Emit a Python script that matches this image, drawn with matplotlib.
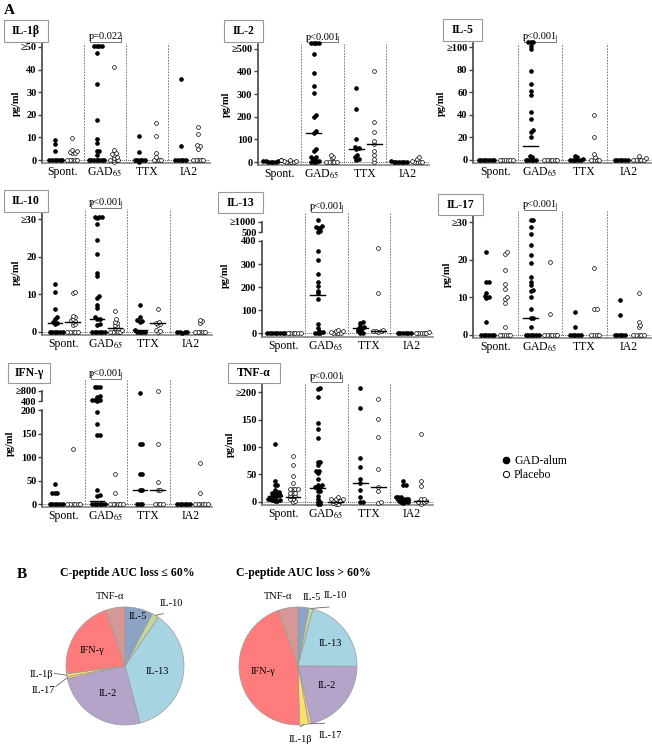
import numpy as np
import matplotlib
matplotlib.use('Agg')
import matplotlib.pyplot as plt
from matplotlib.lines import Line2D
from matplotlib.patches import Rectangle

plt.rcParams['font.family'] = ['Liberation Serif', 'DejaVu Serif']
plt.rcParams['mathtext.fontset'] = 'stix'

W, H = 652, 748
groups = ['Spont.', 'GAD$_{65}$', 'TTX', 'IA2']

# ---------------- data (pg/ml), per group: Spont., GAD65, TTX, IA2 ----------------
il1b_alum = [[0, 0, 0, 0, 0, 0, 4.0, 7.3, 8.7],
             [0, 0, 0, 0, 0, 0, 0, 2.4, 3.9, 4.0, 7.6, 9.1, 17.8, 33.5, 47.3, 50.5, 50.5, 50.5, 50.5],
             [-1.0, 0, 0, 0, 0, 0, 3.6, 10.4],
             [0, 0, 0, 0, 0, 6.1, 35.7]]
il1b_plac = [[0, 0, 0, 0, 0, 3.0, 3.3, 3.5, 4.0, 4.4, 9.8],
             [-1.0, 0, 0, 0, 0, 1.0, 1.5, 2.2, 2.6, 2.9, 4.3, 41.3],
             [0, 0, 0, 0, 1.3, 3.0, 10.4, 16.3],
             [0, 0, 0, 0, 0, 5.0, 6.0, 6.5, 11.5, 14.7]]
il1b_med = [None] * 8

il2_alum = [[0, 0, 0, 0, 3, 5, 6, 8],
            [0, 0, 0, 5, 10, 15, 20, 24, 50, 56, 130, 135, 200, 207, 306, 337, 391, 476, 523, 523, 523, 523],
            [10, 15, 20, 29, 57, 62, 66, 101, 232, 325],
            [0, 0, 0, 0, 0, 2, 4]]
il2_plac = [[0, 0, 0, 0, 4, 5, 8, 10],
            [0, 0, 0, 0, 0, 16, 24, 31],
            [0, 12, 31, 50, 79, 94, 134, 178, 403],
            [0, 0, 0, 0, 5, 15, 20]]
il2_med = [None, None, 128, None, 57, 78, None, None]

il5_alum = [[0, 0, 0, 0, 0, 0, 0],
            [0, 0, 0, 0, 0, 2, 3.5, 20, 25, 26, 36, 42, 57, 61, 67, 79, 98, 101, 104, 104, 104],
            [0, 0, 0, 0, 0, 1, 2, 3.5],
            [0, 0, 0, 0, 0, 0]]
il5_plac = [[0, 0, 0, 0, 0, 0],
            [0, 0, 0, 0, 0, 0],
            [0, 0, 0, 0, 2, 5, 20, 40],
            [0, 0, 0, 0, 0, 1.5, 3]]
il5_med = [None, None, 12, None, None, None, None, None]

il10_alum = [[0, 0, 0, 0, 0, 0, 2.0, 2.3, 2.5, 3.5, 4.0, 6.0, 10.6, 12.7],
             [0, 0, 0, 0, 0, 0, 1.8, 2.0, 3.3, 3.5, 3.8, 6.3, 7.2, 9.0, 9.6, 14.9, 15.8, 20.7, 24.5,
              28.7, 30.3, 30.7, 30.7, 30.7],
             [0, 0, 0, 0, 0.5, 2.7, 2.9, 3.0, 4.0, 7.1],
             [-0.3, 0, 0, 0, 0]]
il10_plac = [[0, 0, 0, 0, 0, 1.8, 2.0, 2.5, 2.8, 3.0, 3.5, 3.8, 4.3, 10.3, 10.7],
             [0, 0, 0, 0, 0, 0.5, 1.0, 1.5, 1.8, 2.2, 2.7, 3.3, 5.4],
             [0, 0.3, 0.5, 1.8, 2.0, 2.4, 2.6, 6.1],
             [0, 0, 0, 0, 0, 2.4, 2.8, 3.2]]
il10_med = [2.3, 2.5, 3.5, 1.0, 0.5, 2.2, None, None]

il13_alum = [[0, 0, 0, 0, 0, 0, 2, 3],
             [0, 0, 0, 5, 10, 25, 39, 149, 173, 185, 205, 221, 256, 318, 358, 530, 560, 690, 700, 765, 780, 1100],
             [0, 0, 8, 15, 20, 25, 28, 32, 45, 50],
             [0, 0, 0, 0, 0, 0]]
il13_plac = [[0, 0, 0, 0, 0, 2],
             [0, 0, 0, 0, 5, 8, 12, 15],
             [5, 8, 10, 12, 15, 173, 370],
             [0, 0, 0, 0, 3, 5]]
il13_med = [None, None, 165, None, 25, 12, None, None]

il17_alum = [[0, 0, 0, 0, 0, 0, 3.5, 9.9, 10.0, 10.5, 11.1, 14.0, 14.0, 22.0],
             [0, 0, 0, 0, 0, 0, 2.0, 4.4, 4.6, 7.0, 10.1, 11.8, 12.1, 13.3, 14.2, 15.5, 19.1, 21.3, 24.0,
              26.8, 28.7, 30.7, 30.7],
             [0, 0, 0, 0, 0, 2.0, 6.0],
             [0, 0, 0, 0, 0, 5.2, 9.3]]
il17_plac = [[0, 0, 0, 0, 0, 2.2, 8.5, 9.5, 10.0, 12.2, 13.5, 17.3, 21.6, 22.0],
             [0, 0, 0, 0, 0, 0, 5.5, 19.5],
             [0, 0, 0, 0, 6.9, 6.9, 17.8],
             [0, 0, 0, 0, 0, 2.0, 2.6, 3.4, 11.2]]
il17_med = [None, None, 4.4, None, None, None, None, None]

ifng_alum = [[0, 0, 0, 0, 0, 0, 25, 25, 25, 43],
             [0, 0, 0, 0, 0, 0, 18, 20, 30, 148, 148, 170, 196, 420, 440, 450, 460, 575, 610, 970, 970, 970],
             [0, 0, 0, 30, 30, 65, 65, 127, 127, 740],
             [0, 0, 0, 0, 0, 0]]
ifng_plac = [[0, 0, 0, 0, 0, 0, 118],
             [0, 0, 0, 0, 0, 0, 25, 65],
             [0, 0, 0, 0, 30, 30, 48, 127, 800],
             [0, 0, 0, 0, 0, 0, 25, 87]]
ifng_med = [None, None, 8, None, 30, 30, None, None]

tnfa_alum = [[1, 2, 3, 4, 5, 5, 8, 10, 10, 12, 15, 15, 15, 18, 22, 30, 31, 38, 105],
             [-5, -5, 0, 0, 5, 10, 20, 20, 25, 27, 27, 30, 30, 41, 52, 56, 56, 67, 72, 72, 116, 132, 143, 191, 206, 208],
             [0, 0, 8, 21, 35, 41, 64, 80, 171, 208],
             [-3, 0, 0, 0, 2, 5, 5, 5, 8, 8, 8, 31, 31, 37]]
tnfa_plac = [[0, 2, 5, 5, 10, 10, 10, 15, 15, 15, 24, 24, 24, 24, 35, 47, 67, 83],
             [-5, -5, -3, 0, 2, 2, 2, 5, 5, 5, 8],
             [-2, 0, 20, 27, 60, 119, 152, 188],
             [-5, 0, 0, 0, 2, 5, 5, 29, 38, 124]]
tnfa_med = [11, 9, 25, 0, 35, 27, 3, 1]

# pie charts (B): share of cytokine response, clockwise from top
pie_names = ['IL-5', 'IL-10', 'IL-13', 'IL-2', 'IL-17', 'IL-1β', 'IFN-γ', 'TNF-α']
pie_low = [7.7, 1.9, 36.3, 25.6, 0.6, 0.8, 21.8, 5.3]
pie_high = [3.0, 1.1, 21.0, 21.2, 0.8, 2.5, 45.0, 5.4]
pie_colors = ['#8DA3C6', '#C4D79B', '#A6D4E2', '#B4A4CA', '#F9C290', '#FCE06C', '#FF7C7C', '#D69896']


# broken y axes (IL-13, IFN-γ)
def f_il13(v):
    v = np.asarray(v, float)
    return np.where(v <= 400, v, 437.5 + (v - 500) * 0.0926)


def f_ifng(v):
    v = np.asarray(v, float)
    return np.where(v <= 200, v, 219 + (v - 400) * 0.05325)


def swarm(y, d):
    # simple beeswarm: x offsets (pixels) so that markers do not overlap
    placed = []
    offs = np.zeros(len(y))
    for i in np.argsort(y, kind='stable'):
        near = [(px, py) for px, py in placed if abs(py - y[i]) < d]
        cands = [0.0]
        for px, py in near:
            dx = np.sqrt(d * d - (py - y[i]) ** 2)
            cands += [px + dx, px - dx]
        for c in sorted(cands, key=abs):
            if all((c - px) ** 2 + (y[i] - py) ** 2 >= d * d - 1e-6 for px, py in near):
                offs[i] = c
                break
        placed.append((offs[i], y[i]))
    return offs


fig = plt.figure(figsize=(W / 100, H / 100), dpi=100)


def panel(name, alum, plac, med, pval, lay, box, ticks, ticklabels, f=None, brk=None):
    left, right, top, zero, tpx, tval, bottom = lay
    s = (zero - tpx) / tval
    ax = fig.add_axes([left / W, 1 - bottom / H, (right - left) / W, (bottom - top) / H])
    ax.set_xlim(0, 4)
    ax.set_ylim(-(bottom - zero) / s, (zero - top) / s)
    gpx = (right - left) / 4
    for i in range(4):
        for vals, xo, fc in [(alum[i], 0.3, 'k'), (plac[i], 0.72, 'white')]:
            v = np.array(vals, float)
            if f is not None:
                v = f(v)
            off = swarm(v * s, 2.6) / gpx
            ax.scatter(i + xo + off, v, s=7.5, c=fc, edgecolors='k', linewidths=0.5,
                       zorder=3, clip_on=False)
        for m, xo in [(med[2 * i], 0.3), (med[2 * i + 1], 0.72)]:
            if m is not None:
                mv = f(m) if f is not None else m
                ax.plot([i + xo - 0.17, i + xo + 0.17], [mv, mv], color='k', lw=1.0, zorder=4)
    ax.axhline(0, color='#666666', lw=0.7, ls=(0, (1, 1)), zorder=1)
    for x in [1, 2, 3, 4]:
        ax.axvline(x, color='#666666', lw=0.6, ls=(0, (2, 1.5)), zorder=1)
    for sp in ['top', 'right']:
        ax.spines[sp].set_visible(False)
    ax.spines['left'].set_color('#444444')
    ax.spines['left'].set_linewidth(1.2)
    ax.spines['bottom'].set_color('#888888')
    ax.spines['bottom'].set_linewidth(1.2)
    if brk is not None:
        ax.spines['left'].set_bounds(ax.get_ylim()[0], brk[0])
        ax.plot([0, 0], [brk[1], brk[2]], color='#444444', lw=1.2,
                transform=ax.get_yaxis_transform(), clip_on=False)
    ax.set_yticks(ticks)
    ax.set_yticklabels(ticklabels, fontsize=7.5, fontweight='bold')
    ax.tick_params(axis='y', length=3, width=1, pad=1, color='#444444')
    ax.set_xticks([0.5, 1.5, 2.5, 3.5])
    ax.set_xticklabels(groups, fontsize=8.5)
    ax.tick_params(axis='x', length=0, pad=2)
    ax.set_ylabel('pg/ml', fontsize=7.5, fontweight='bold', labelpad=0)

    # p value bracket over GAD65
    hpx = bottom - top
    tr = ax.get_xaxis_transform()
    y0 = 1 + 1.5 / hpx
    y1 = 1 + 8 / hpx
    ax.plot([1.15, 1.15, 1.87, 1.87], [y1, y0, y0, y1], color='#777777', lw=0.7,
            transform=tr, clip_on=False)
    ax.text(1.51, y0 + 0.5 / hpx, pval, fontsize=7.5, ha='center', va='bottom', transform=tr)

    # name box
    x0, y0b, x1, y1b = box
    fig.add_artist(Rectangle((x0 / W, 1 - y1b / H), (x1 - x0) / W, (y1b - y0b) / H,
                             transform=fig.transFigure, fc='white', ec='#999999', lw=0.8))
    fig.text((x0 + x1) / 2 / W, 1 - (y0b + y1b) / 2 / H, name, fontsize=8.5, fontweight='bold',
             ha='center', va='center')
    return ax


panel('IL-1β', il1b_alum, il1b_plac, il1b_med, 'p=0.022',
      (42, 210, 43, 160, 47, 50, 163), (4, 20, 48, 42),
      [0, 10, 20, 30, 40, 50], ['0', '10', '20', '30', '40', '≥50'])
panel('IL-2', il2_alum, il2_plac, il2_med, 'p<0.001',
      (258, 429, 44, 162, 48.7, 500, 165), (224, 20, 263, 42),
      [0, 100, 200, 300, 400, 500], ['0', '100', '200', '300', '400', '≥500'])
panel('IL-5', il5_alum, il5_plac, il5_med, 'p<0.001',
      (473, 651, 43, 159.7, 47, 100, 163), (443, 19, 482, 41),
      [0, 20, 40, 60, 80, 100], ['0', '20', '40', '60', '80', '≥100'])
panel('IL-10', il10_alum, il10_plac, il10_med, 'p<0.001',
      (42, 212, 209, 331.7, 219.3, 30, 335), (4, 190, 48, 212),
      [0, 10, 20, 30], ['0', '10', '20', '≥30'])
panel('IL-13', il13_alum, il13_plac, il13_med, 'p<0.001',
      (262, 433, 213, 333.3, 241, 400, 337), (218, 192, 263, 213),
      [0, 100, 200, 300, 400, float(f_il13(500)), float(f_il13(1000))],
      ['0', '100', '200', '300', '400', '500', '≥1000'],
      f=f_il13, brk=(400, float(f_il13(500)), float(f_il13(1000))))
panel('IL-17', il17_alum, il17_plac, il17_med, 'p<0.001',
      (473, 651, 211, 335, 222.3, 30, 338), (438, 194, 483, 215),
      [0, 10, 20, 30], ['0', '10', '20', '≥30'])
panel('IFN-γ', ifng_alum, ifng_plac, ifng_med, 'p<0.001',
      (42, 212, 380, 504.3, 410, 200, 507), (8, 363, 50, 383),
      [0, 50, 100, 150, 200, float(f_ifng(400)), float(f_ifng(800))],
      ['0', '50', '100', '150', '200', '400', '≥800'],
      f=f_ifng, brk=(200, float(f_ifng(400)), float(f_ifng(800))))
panel('TNF-α', tnfa_alum, tnfa_plac, tnfa_med, 'p<0.001',
      (262, 433, 383, 501.7, 392.3, 200, 505), (228, 363, 280, 383),
      [0, 50, 100, 150, 200], ['0', '50', '100', '150', '≥200'])

# legend
handles = [Line2D([], [], marker='o', ls='', mfc='k', mec='k', ms=4.5),
           Line2D([], [], marker='o', ls='', mfc='white', mec='k', mew=0.7, ms=4.5)]
fig.legend(handles, ['GAD-alum', 'Placebo'], loc='upper left', bbox_to_anchor=(494 / W, 1 - 449 / H),
           frameon=False, fontsize=8.5, handletextpad=0.2, labelspacing=0.15, borderpad=0,
           handlelength=1)

fig.text(9 / W, 1 - 10 / H, 'A', fontsize=11, fontweight='bold', ha='center', va='center')
fig.text(22 / W, 1 - 574 / H, 'B', fontsize=11, fontweight='bold', ha='center', va='center')


def pie(cx, cy, r, vals, title, tx, lab):
    ax = fig.add_axes([(cx - r) / W, 1 - (cy + r) / H, 2 * r / W, 2 * r / H])
    ax.pie(vals, colors=pie_colors, startangle=90, counterclock=False, radius=1,
           wedgeprops=dict(edgecolor='#9a9a9a', linewidth=0.5))
    ax.set_xlim(-1, 1)
    ax.set_ylim(-1, 1)
    frac = np.array(vals) / np.sum(vals)
    cum = np.concatenate([[0], np.cumsum(frac)])
    for k, nm in enumerate(pie_names):
        rf, dth, line = lab[k]
        mid = np.deg2rad(90 - 360 * (cum[k] + frac[k] / 2))
        ang = mid + np.deg2rad(dth)
        ax.text(rf * np.cos(ang), rf * np.sin(ang), nm, fontsize=7.5, ha='center', va='center',
                clip_on=False)
        if line:
            ax.plot([np.cos(mid), (rf - 0.22) * np.cos(ang)], [np.sin(mid), (rf - 0.22) * np.sin(ang)],
                    color='#666666', lw=0.6, clip_on=False)
    fig.text(tx / W, 1 - 573 / H, title, fontsize=8.5, fontweight='bold', ha='center', va='center')


# label placement: (radius factor, angle shift in degrees, leader line)
lab_low = [(0.86, -1, False), (1.32, -5, True), (0.55, 0, False), (0.55, 0, False),
           (1.45, 5, True), (1.42, -3, True), (0.61, 7, False), (1.2, 3, False)]
lab_high = [(1.19, -6, False), (1.35, -15, True), (0.67, -2, False), (0.59, 5, False),
            (1.29, 13, True), (1.25, -4, True), (0.6, -1, False), (1.22, 6, False)]
pie(125, 666, 59, pie_low, 'C-peptide AUC loss ≤ 60%', 127, lab_low)
pie(298, 666, 59, pie_high, 'C-peptide AUC loss > 60%', 303, lab_high)

fig.savefig('out.png', dpi=100)
